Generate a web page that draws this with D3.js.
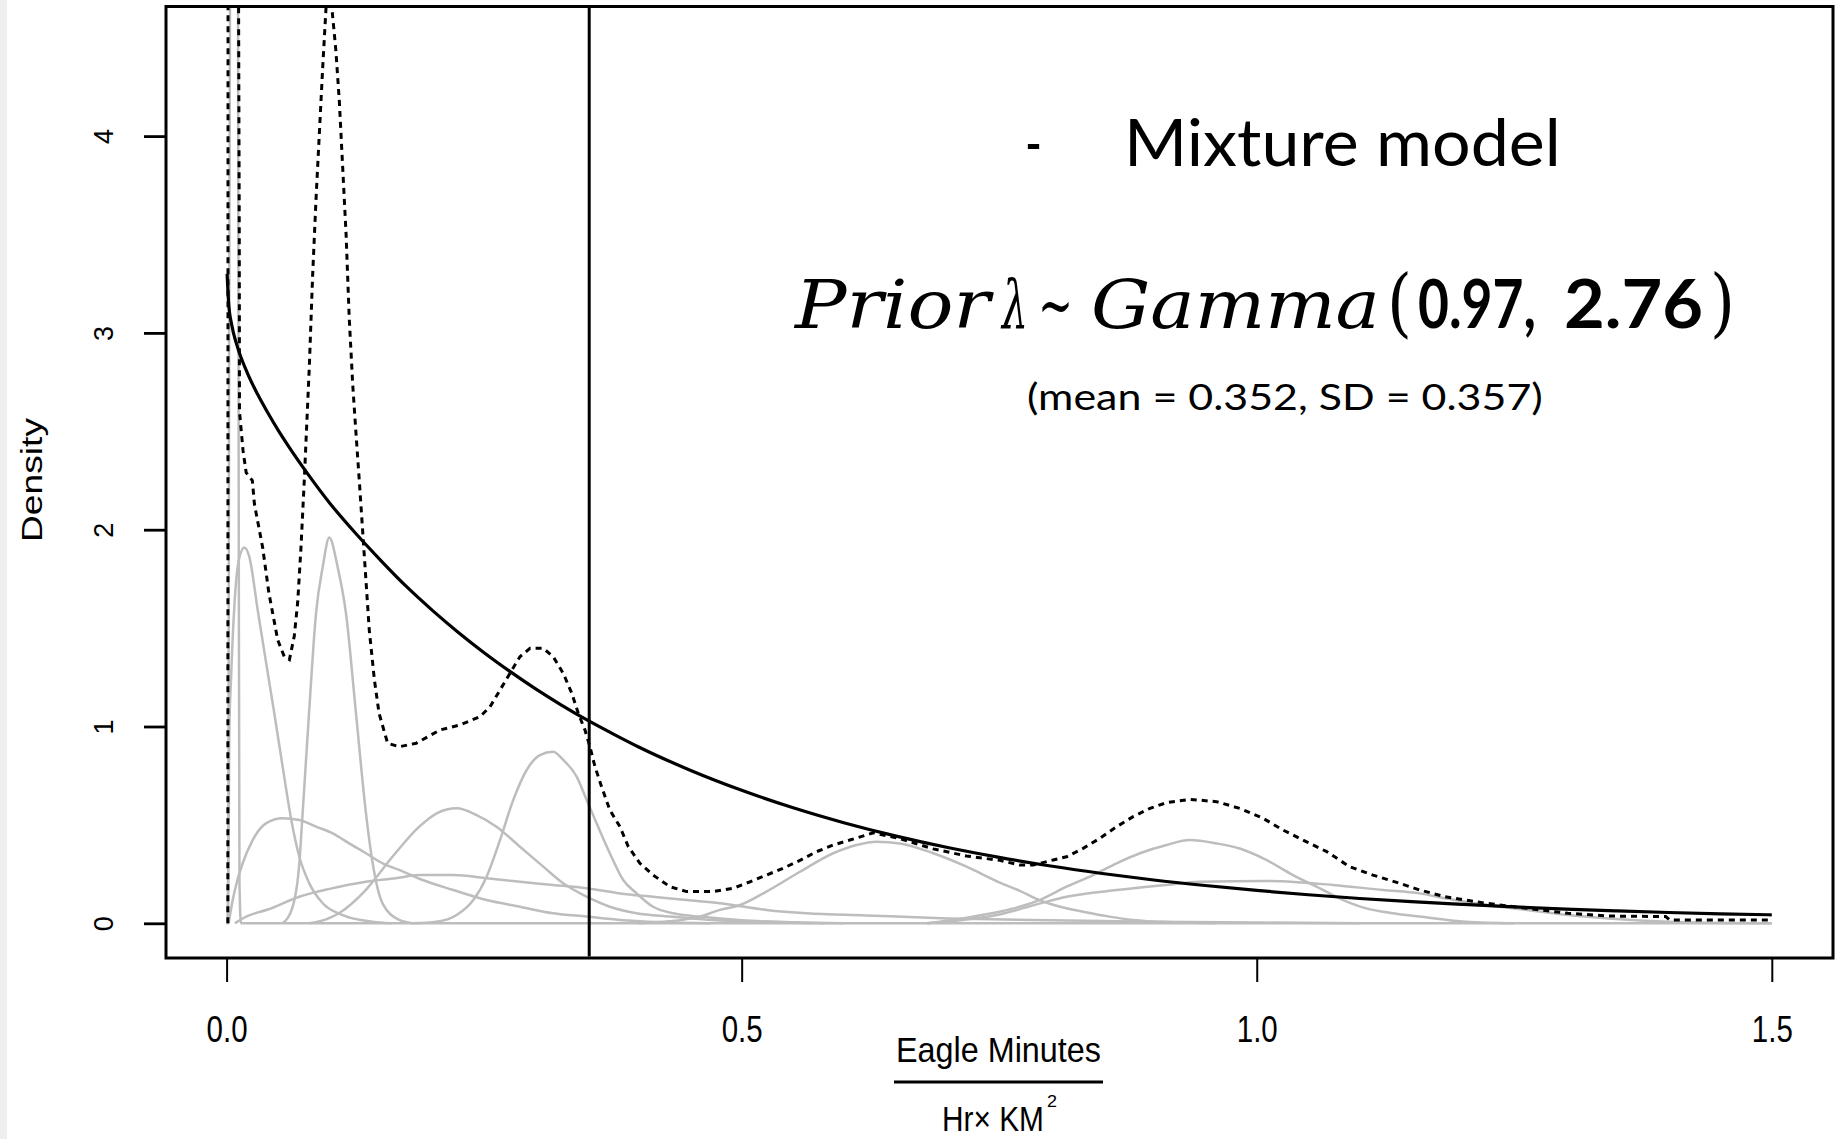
<!DOCTYPE html>
<html><head><meta charset="utf-8">
<script src="https://cdn.jsdelivr.net/npm/d3@7"></script>
<style>html,body{margin:0;padding:0;background:#fff;overflow:hidden}</style>
</head><body>
<svg id="c" width="1841" height="1139"></svg>
<script>
// ---------- data ----------
const xTicks = [0, 0.5, 1.0, 1.5];
const xTickLabels = ["0.0", "0.5", "1.0", "1.5"];
const yTicks = [0, 1, 2, 3, 4];
const yTickLabels = ["0", "1", "2", "3", "4"];
const yLabel = "Density";
const xLabelTop = "Eagle Minutes";
const xLabelBottom = "Hr\u00d7 KM";
const xLabelSup = "2";
const titleDash = "-";
const titleText = "Mixture model";
const priorParts = ["Prior", "\u03bb", "~", "Gamma", "(", "0.97,", "2.76", ")"];
const subtitle = "(mean = 0.352, SD = 0.357)";
const priorMean = 0.352;

// prior Gamma(0.97, 2.76) density, solid black
const priorCurve = [[0.0005,3.30],[0.002,3.15],[0.005,3.04],[0.01,2.938],[0.02,2.798],[0.03,2.689],[0.04,2.594],[0.05,2.506],[0.06,2.425],[0.08,2.275],[0.10,2.136],[0.125,1.983],[0.15,1.842],[0.175,1.709],[0.20,1.589],[0.225,1.478],[0.25,1.375],[0.275,1.280],[0.30,1.191],[0.325,1.109],[0.352,1.027],[0.375,0.963],[0.40,0.896],[0.45,0.778],[0.50,0.676],[0.55,0.587],[0.60,0.510],[0.65,0.443],[0.70,0.385],[0.75,0.335],[0.80,0.291],[0.85,0.253],[0.90,0.220],[0.95,0.192],[1.00,0.167],[1.05,0.145],[1.10,0.126],[1.15,0.110],[1.20,0.096],[1.25,0.083],[1.30,0.072],[1.35,0.063],[1.40,0.055],[1.45,0.048],[1.50,0.043]];

// mixture density, dotted black
const mixtureCurve = [[0.0012,0],[0.0013,2.0],[0.0014,4.9],[0.0115,4.9],[0.0123,3.5],[0.0125,2.6],[0.016,2.4],[0.019,2.29],[0.025,2.25],[0.027,2.13],[0.035,1.91],[0.041,1.68],[0.0496,1.44],[0.056,1.355],[0.061,1.34],[0.0657,1.46],[0.069,1.63],[0.0722,1.91],[0.0754,2.25],[0.0803,2.83],[0.0835,3.29],[0.0868,3.68],[0.09,4.01],[0.0933,4.35],[0.0965,4.65],[0.099,4.85],[0.1013,4.7],[0.106,4.44],[0.1094,4.18],[0.1127,3.84],[0.116,3.5],[0.119,3.08],[0.1224,2.74],[0.1256,2.49],[0.1288,2.25],[0.132,2.0],[0.1353,1.74],[0.1385,1.49],[0.1434,1.24],[0.148,1.067],[0.1563,0.915],[0.1676,0.897],[0.184,0.915],[0.207,0.982],[0.2265,1.008],[0.246,1.05],[0.2557,1.10],[0.2654,1.185],[0.275,1.27],[0.2848,1.355],[0.2945,1.397],[0.3074,1.397],[0.317,1.355],[0.3268,1.27],[0.335,1.17],[0.3414,1.067],[0.3479,0.982],[0.3527,0.897],[0.3576,0.796],[0.364,0.694],[0.372,0.576],[0.3818,0.491],[0.39,0.389],[0.4012,0.305],[0.414,0.245],[0.4304,0.186],[0.4466,0.161],[0.4724,0.161],[0.4918,0.178],[0.508,0.211],[0.524,0.245],[0.540,0.279],[0.5566,0.32],[0.5727,0.364],[0.5889,0.398],[0.605,0.423],[0.6213,0.449],[0.6277,0.46],[0.6536,0.43],[0.686,0.378],[0.7183,0.342],[0.7506,0.32],[0.77,0.296],[0.783,0.296],[0.8024,0.322],[0.8154,0.338],[0.8315,0.381],[0.8477,0.432],[0.864,0.491],[0.88,0.542],[0.8963,0.584],[0.9125,0.613],[0.935,0.63],[0.961,0.618],[0.9835,0.584],[1.006,0.534],[1.0255,0.474],[1.048,0.415],[1.068,0.364],[1.09,0.288],[1.1128,0.245],[1.139,0.203],[1.1583,0.169],[1.183,0.135],[1.2225,0.102],[1.262,0.076],[1.302,0.051],[1.3415,0.037],[1.397,0.034],[1.401,0.017],[1.5,0.017]];

// mixture components, grey
const compA = [[0,0],[0.0015,0],[0.0025,3.0],[0.004,6.0],[0.008,7.0],[0.011,5.0],[0.0118,2.0],[0.0125,0.2],[0.014,0],[1.5,0]];
const compB = [[0.001,0],[0.0022,0.6],[0.0026,0.97],[0.0043,1.24],[0.0075,1.61],[0.012,1.85],[0.0172,1.91],[0.022,1.863],[0.0302,1.592],[0.0382,1.329],[0.0463,1.067],[0.0544,0.796],[0.0625,0.534],[0.0706,0.338],[0.0803,0.203],[0.0933,0.102],[0.1127,0.042],[0.1418,0.008],[0.16,0]];
const compC = [[0.002,0],[0.006,0.12],[0.01,0.21],[0.0156,0.305],[0.0253,0.423],[0.0382,0.508],[0.0544,0.534],[0.0706,0.525],[0.0868,0.491],[0.103,0.457],[0.119,0.406],[0.1353,0.356],[0.1515,0.305],[0.1676,0.271],[0.1877,0.225],[0.22,0.169],[0.2524,0.118],[0.2848,0.084],[0.317,0.051],[0.3495,0.034],[0.3818,0.017],[0.42,0.006],[0.47,0]];
const compD = [[0.0544,0],[0.0641,0.084],[0.0706,0.305],[0.0738,0.559],[0.080,1.067],[0.0868,1.575],[0.0933,1.81],[0.0997,1.96],[0.1078,1.81],[0.1159,1.575],[0.1256,1.067],[0.1353,0.559],[0.1418,0.305],[0.1515,0.1],[0.1676,0.017],[0.18,0]];
const compE = [[0.008,0],[0.019,0.034],[0.04,0.07],[0.0706,0.135],[0.1,0.175],[0.1353,0.211],[0.164,0.229],[0.187,0.245],[0.22,0.245],[0.2524,0.229],[0.2848,0.211],[0.317,0.195],[0.3495,0.178],[0.3818,0.152],[0.414,0.135],[0.4466,0.118],[0.479,0.102],[0.524,0.068],[0.563,0.051],[0.62,0.04],[0.7,0.025],[0.8,0.015],[0.9,0.008],[1.0,0.004],[1.1,0]];
const compF = [[0.08,0],[0.0966,0.02],[0.109,0.051],[0.135,0.169],[0.161,0.338],[0.187,0.491],[0.204,0.559],[0.2233,0.584],[0.2427,0.55],[0.262,0.491],[0.2848,0.389],[0.3074,0.288],[0.3268,0.203],[0.3495,0.135],[0.372,0.084],[0.398,0.051],[0.43,0.034],[0.47,0.017],[0.52,0.006],[0.58,0]];
const compG = [[0.18,0],[0.204,0.008],[0.2233,0.042],[0.2395,0.118],[0.2524,0.237],[0.2654,0.423],[0.2783,0.627],[0.2913,0.779],[0.3042,0.855],[0.317,0.872],[0.3268,0.83],[0.3398,0.745],[0.3495,0.627],[0.3592,0.508],[0.372,0.356],[0.385,0.22],[0.398,0.152],[0.414,0.084],[0.4336,0.051],[0.4595,0.034],[0.5,0.015],[0.55,0.005],[0.6,0]];
const compH = [[0.40,0],[0.43,0.01],[0.4595,0.034],[0.479,0.068],[0.4984,0.093],[0.524,0.161],[0.5566,0.262],[0.5889,0.356],[0.6116,0.398],[0.631,0.415],[0.6536,0.406],[0.686,0.356],[0.7183,0.288],[0.7506,0.207],[0.77,0.165],[0.789,0.118],[0.809,0.084],[0.8315,0.059],[0.857,0.034],[0.88,0.017],[0.92,0.005],[0.96,0]];
const compI = [[0.68,0],[0.72,0.03],[0.75,0.059],[0.77,0.084],[0.789,0.118],[0.8154,0.186],[0.8412,0.245],[0.864,0.305],[0.8866,0.356],[0.9125,0.398],[0.935,0.423],[0.961,0.406],[0.9835,0.38],[1.0093,0.322],[1.0352,0.245],[1.058,0.186],[1.084,0.118],[1.1063,0.076],[1.132,0.051],[1.158,0.034],[1.203,0.008],[1.25,0]];
const compJ = [[0.68,0],[0.72,0.02],[0.75,0.045],[0.789,0.1],[0.8154,0.135],[0.864,0.169],[0.9125,0.195],[0.945,0.211],[1.0093,0.215],[1.074,0.195],[1.1227,0.169],[1.158,0.152],[1.183,0.127],[1.2225,0.093],[1.262,0.068],[1.302,0.042],[1.3415,0.025],[1.40,0.008],[1.45,0.002],[1.5,0]];
const components = [compA, compB, compC, compD, compE, compF, compG, compH, compI, compJ];

// ---------- drawing ----------
const svg = d3.select("#c");
svg.append("rect").attr("x",0).attr("y",0).attr("width",1841).attr("height",1139).attr("fill","#fff");
svg.append("rect").attr("x",0).attr("y",0).attr("width",7).attr("height",1139).attr("fill","#efefef");

const box = {l:166, r:1833, t:6.5, b:958};
const x = d3.scaleLinear().domain([0,1.5]).range([226.6,1771.8]);
const y = d3.scaleLinear().domain([0,4]).range([923.3,136.1]);

svg.append("clipPath").attr("id","plotclip").append("rect")
  .attr("x",box.l+1.5).attr("y",box.t+1.5).attr("width",box.r-box.l-3).attr("height",box.b-box.t-3);

const plot = svg.append("g").attr("clip-path","url(#plotclip)");
const lineLin = d3.line().x(d=>x(d[0])).y(d=>y(d[1]));
const lineSmooth = d3.line().x(d=>x(d[0])).y(d=>y(d[1])).curve(d3.curveMonotoneX);

plot.selectAll("path.comp").data(components).join("path")
  .attr("class","comp").attr("d",lineSmooth)
  .attr("fill","none").attr("stroke","#bdbdbd").attr("stroke-width",2.5).attr("stroke-linejoin","round");

plot.append("path").datum(priorCurve).attr("d",lineSmooth)
  .attr("fill","none").attr("stroke","#000").attr("stroke-width",3.2);

plot.append("path").datum(mixtureCurve).attr("d",lineLin)
  .attr("fill","none").attr("stroke","#000").attr("stroke-width",3).attr("stroke-dasharray","6,5");

plot.append("line").attr("x1",x(priorMean)).attr("x2",x(priorMean))
  .attr("y1",box.t).attr("y2",box.b).attr("stroke","#000").attr("stroke-width",3);

// box
svg.append("rect").attr("x",box.l).attr("y",box.t).attr("width",box.r-box.l).attr("height",box.b-box.t)
  .attr("fill","none").attr("stroke","#000").attr("stroke-width",3);

// helper: text fitted to a given width by horizontal scaling
function fitText(str, left, base, width, font, size, style, weight) {
  const t = svg.append("text").attr("x",0).attr("y",0)
    .style("font-family",font).style("font-size",size+"px")
    .style("font-style",style||"normal").style("font-weight",weight||"normal").text(str);
  const w0 = t.node().getComputedTextLength() || width;
  t.attr("transform",`translate(${left},${base}) scale(${width/w0},1)`);
  return t;
}

// y axis
const rFont = "'Liberation Sans', Arial, sans-serif";
const gy = svg.append("g").attr("transform",`translate(${box.l},0)`)
  .call(d3.axisLeft(y).tickValues(yTicks).tickFormat((d,i)=>yTickLabels[i]).tickSize(22).tickSizeOuter(0));
gy.select(".domain").remove();
gy.selectAll(".tick line").attr("stroke","#000").attr("stroke-width",2.8);
gy.selectAll(".tick text").attr("transform","rotate(-90)").attr("x",0).attr("y",-53).attr("dy",0)
  .attr("text-anchor","middle").attr("fill","#000")
  .style("font-family",rFont).style("font-size","27px");

// x axis
const gx = svg.append("g").attr("transform",`translate(0,${box.b})`)
  .call(d3.axisBottom(x).tickValues(xTicks).tickFormat((d,i)=>xTickLabels[i]).tickSize(24).tickSizeOuter(0));
gx.select(".domain").remove();
gx.selectAll(".tick line").attr("stroke","#000").attr("stroke-width",2);
gx.selectAll(".tick text").attr("y",84).attr("dy",0).attr("text-anchor","middle").attr("fill","#000")
  .attr("textLength",41).attr("lengthAdjust","spacingAndGlyphs")
  .style("font-family",rFont).style("font-size","37px");

// axis titles
svg.append("text").attr("transform","translate(42,480) rotate(-90)").attr("text-anchor","middle")
  .attr("textLength",124).attr("lengthAdjust","spacingAndGlyphs")
  .style("font-family",rFont).style("font-size","30px").text(yLabel);

fitText(xLabelTop, 896, 1062, 205, rFont, 35);
svg.append("line").attr("x1",894).attr("x2",1103).attr("y1",1082).attr("y2",1082).attr("stroke","#000").attr("stroke-width",3);
fitText(xLabelBottom, 942, 1131, 102, rFont, 36);
fitText(xLabelSup, 1047, 1107, 10, rFont, 16);

// slide annotations
const sans = "Lato, 'Open Sans', sans-serif";
const serif = "'DejaVu Serif', 'Liberation Serif', serif";
fitText(titleDash, 1025, 166, 17, sans, 66);
fitText(titleText, 1124, 166, 437, sans, 66);

const priorPos = [
  {x:795, w:195, font:serif, style:"italic", weight:"normal", size:68},
  {x:1002, w:26, font:serif, style:"italic", weight:"normal", size:68},
  {x:1038, w:35, font:serif, style:"normal", weight:"normal", size:68},
  {x:1091, w:289, font:serif, style:"italic", weight:"normal", size:68},
  {x:1387, w:25, font:serif, style:"normal", weight:"normal", size:74},
  {x:1418, w:118, font:sans, style:"normal", weight:"bold", size:66},
  {x:1564, w:139, font:sans, style:"normal", weight:"bold", size:66},
  {x:1710, w:25, font:serif, style:"normal", weight:"normal", size:74}
];
priorParts.forEach((t,i)=>{
  const p = priorPos[i];
  fitText(t, p.x, 328, p.w, p.font, p.size, p.style, p.weight);
});

fitText(subtitle, 1027, 410, 516, sans, 36);
</script>
</body></html>
